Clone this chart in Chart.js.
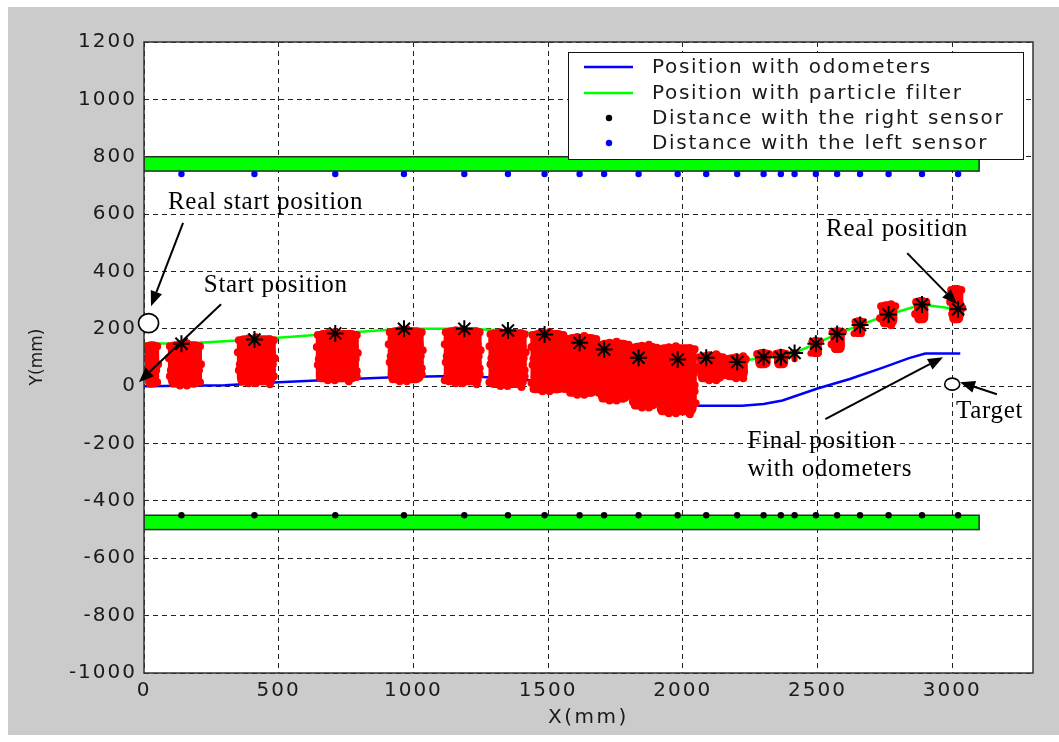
<!DOCTYPE html>
<html><head><meta charset="utf-8">
<script src="https://cdn.jsdelivr.net/npm/chart.js@4.4.1/dist/chart.umd.min.js"></script>
<style>html,body{margin:0;padding:0;background:#fff}canvas{display:block}</style>
</head><body>
<canvas id="c" width="1059" height="742"></canvas>
<script>
// ---------- data (mm) ----------
const xTicks = [0, 500, 1000, 1500, 2000, 2500, 3000];
const yTicks = [-1000, -800, -600, -400, -200, 0, 200, 400, 600, 800, 1000, 1200];

const odoX = [0, 300, 500, 700, 950, 1200, 1320, 1490, 1560, 1670, 1800, 1920, 2030, 2220, 2300, 2370, 2500, 2620, 2740, 2840, 2900, 3030];
const odoY = [0, 3, 14, 22, 32, 36, 28, 17, 7, -10, -35, -52, -68, -68, -62, -50, -8, 25, 64, 98, 114, 114];

const pfX = [0, 139, 410, 710, 965, 1189, 1351, 1487, 1617, 1708, 1836, 1981, 2087, 2202, 2300, 2364, 2415, 2494, 2573, 2658, 2764, 2888, 3022];
const pfY = [150, 148, 163, 184, 200, 200, 194, 180, 151, 128, 99, 93, 99, 84, 101, 101, 116, 148, 182, 213, 250, 285, 268];

const sensorX = [139, 410, 710, 965, 1189, 1351, 1487, 1617, 1708, 1836, 1981, 2087, 2202, 2300, 2364, 2415, 2494, 2573, 2658, 2764, 2888, 3022];
const starY   = [148, 163, 184, 200, 200, 194, 180, 151, 128, 99, 93, 99, 84, 101, 101, 116, 148, 182, 213, 250, 285, 268];
const rightSensorY = [-450, -450, -450, -450, -450, -450, -450, -450, -450, -450, -450, -450, -450, -450, -450, -450, -450, -450, -450, -450, -450, -450];
const leftSensorY  = [740, 740, 740, 740, 740, 740, 740, 740, 740, 740, 740, 740, 740, 740, 740, 740, 740, 740, 740, 740, 740, 740];

// particle clouds (extent of each cloud)
const cloudXLo = [0, 85, 341, 634, 901, 1109, 1275, 1431, 1560, 1680, 1800, 1900, 2050, 2150, 2265, 2335, 2400, 2470, 2545, 2630, 2725, 2855, 2985];
const cloudXHi = [60, 219, 493, 801, 1042, 1257, 1424, 1568, 1690, 1810, 1915, 2055, 2160, 2245, 2330, 2395, 2430, 2520, 2605, 2680, 2800, 2915, 3045];
const cloudYLo = [-8, -8, 0, 10, 7, 0, -10, -28, -40, -60, -85, -105, 10, 17, 59, 59, 80, 98, 112, 168, 202, 216, 216];
const cloudYHi = [160, 160, 181, 199, 209, 209, 202, 199, 185, 165, 155, 150, 122, 115, 133, 133, 133, 175, 209, 244, 300, 314, 356];

// corridor walls
const wallX = [0, 3100];
const topWall = [750, 800];
const bottomWall = [-500, -450];

// annotations (mm)
const notes = [
  {text: 'Real start position', x: 89, y: 642},
  {text: 'Start position', x: 222, y: 352},
  {text: 'Real position', x: 2532, y: 548},
  {text: 'Target', x: 3014, y: -87},
  {text: 'Final position', x: 2240, y: -192},
  {text: 'with odometers', x: 2240, y: -290}
];
const arrows = [
  {x1: 145, y1: 569, x2: 26, y2: 279},
  {x1: 286, y1: 286, x2: -19, y2: 14},
  {x1: 2833, y1: 464, x2: 3018, y2: 286},
  {x1: 2529, y1: -115, x2: 2966, y2: 101},
  {x1: 3166, y1: -28, x2: 3029, y2: 14}
];
const circles = [
  {x: 17, y: 220, rx: 10, ry: 9.5},
  {x: 3000, y: 7, rx: 7.5, ry: 6}
];

// ---------- drawing helpers ----------
const TXT = '#1a1a1a';
const sansFont = {family: 'DejaVu Sans', size: 20};

function pts(xs, ys) { return xs.map((x, i) => ({x: x, y: ys[i]})); }

const bgPlugin = {
  id: 'bg',
  beforeDraw(c) {
    const ctx = c.ctx, a = c.chartArea;
    ctx.save();
    ctx.fillStyle = '#ffffff';
    ctx.fillRect(0, 0, c.width, c.height);
    ctx.fillStyle = '#cbcbcb';
    ctx.fillRect(8, 7, c.width - 8, 728);
    ctx.fillStyle = '#ffffff';
    ctx.fillRect(a.left, a.top, a.right - a.left, a.bottom - a.top);
    ctx.restore();
    ctx.letterSpacing = '2px';
  }
};

const wallPlugin = {
  id: 'walls',
  beforeDatasetsDraw(c) {
    const ctx = c.ctx, a = c.chartArea, sx = c.scales.x, sy = c.scales.y;
    ctx.save();
    ctx.beginPath(); ctx.rect(a.left, a.top, a.right - a.left, a.bottom - a.top); ctx.clip();
    [topWall, bottomWall].forEach(w => {
      const x0 = sx.getPixelForValue(wallX[0]), x1 = sx.getPixelForValue(wallX[1]);
      const y0 = sy.getPixelForValue(w[1]), y1 = sy.getPixelForValue(w[0]);
      ctx.fillStyle = '#00ff00';
      ctx.fillRect(x0, y0, x1 - x0, y1 - y0);
      ctx.strokeStyle = '#2a2a2a'; ctx.lineWidth = 1.5;
      ctx.strokeRect(x0, y0, x1 - x0, y1 - y0);
    });
    ctx.restore();
  }
};

// irregular outline for a cloud of particles
function blob(ctx, x0, x1, y0, y1) {
  const w = x1 - x0, h = y1 - y0;
  const r = Math.min(7, w / 3, h / 3);
  const br = Math.min(4, w / 4);
  ctx.beginPath();
  ctx.roundRect(x0 + 1, y0 + 1, w - 2, h - 2, r);
  ctx.fill();
  const pat = [-1, 1, -2, 2, 0, -1, 2, 1, -2, 0, 1, -1];
  let k = 0;
  for (let y = y0 + br + 2; y < y1 - br - 1; y += 6, k++) {
    const dl = pat[k % pat.length], dr = pat[(k + 5) % pat.length];
    ctx.beginPath(); ctx.arc(x0 + br + dl, y, br, 0, Math.PI * 2); ctx.fill();
    ctx.beginPath(); ctx.arc(x1 - br - dr, y, br, 0, Math.PI * 2); ctx.fill();
  }
  k = 3;
  for (let x = x0 + br + 2; x < x1 - br - 1; x += 7, k++) {
    const dt = pat[k % pat.length], db = pat[(k + 7) % pat.length];
    ctx.beginPath(); ctx.arc(x, y0 + br + dt, br, 0, Math.PI * 2); ctx.fill();
    ctx.beginPath(); ctx.arc(x, y1 - br - db, br, 0, Math.PI * 2); ctx.fill();
  }
}

const cloudPlugin = {
  id: 'clouds',
  beforeDatasetDraw(c, args) {
    if (args.index !== 2) return;
    const ctx = c.ctx, a = c.chartArea, sx = c.scales.x, sy = c.scales.y;
    ctx.save();
    ctx.beginPath(); ctx.rect(a.left, a.top, a.right - a.left, a.bottom - a.top); ctx.clip();
    ctx.fillStyle = '#ff0000';
    for (let i = 0; i < cloudXLo.length; i++) {
      blob(ctx, sx.getPixelForValue(cloudXLo[i]), sx.getPixelForValue(cloudXHi[i]),
           sy.getPixelForValue(cloudYHi[i]), sy.getPixelForValue(cloudYLo[i]));
    }
    ctx.restore();
  }
};

function arrow(ctx, x1, y1, x2, y2) {
  const ang = Math.atan2(y2 - y1, x2 - x1), L = 15, W = 6;
  const bx = x2 - L * Math.cos(ang), by = y2 - L * Math.sin(ang);
  ctx.beginPath(); ctx.moveTo(x1, y1); ctx.lineTo(bx, by); ctx.stroke();
  ctx.beginPath();
  ctx.moveTo(x2, y2);
  ctx.lineTo(bx + W * Math.sin(ang), by - W * Math.cos(ang));
  ctx.lineTo(bx - W * Math.sin(ang), by + W * Math.cos(ang));
  ctx.closePath(); ctx.fill();
}

const overlayPlugin = {
  id: 'overlay',
  afterDraw(c) {
    const ctx = c.ctx, a = c.chartArea, sx = c.scales.x, sy = c.scales.y;
    ctx.save();
    // frame
    ctx.strokeStyle = '#333333'; ctx.lineWidth = 1.5;
    ctx.strokeRect(a.left, a.top, a.right - a.left, a.bottom - a.top);

    // legend
    const L = 568, T = 52, R = 1023, B = 159;
    ctx.fillStyle = '#ffffff'; ctx.fillRect(L, T, R - L, B - T);
    ctx.strokeStyle = '#111111'; ctx.lineWidth = 1; ctx.strokeRect(L + 0.5, T + 0.5, R - L, B - T);
    const rows = [67, 93, 118, 143];
    const ds = c.data.datasets;
    const items = [0, 1, 3, 4];
    ctx.font = '20px "DejaVu Sans"';
    ctx.letterSpacing = '1.7px';
    ctx.textBaseline = 'middle'; ctx.textAlign = 'left';
    items.forEach((di, r) => {
      const d = ds[di], y = rows[r];
      if (d.showLine) {
        ctx.strokeStyle = d.borderColor; ctx.lineWidth = 2.5;
        ctx.beginPath(); ctx.moveTo(584, y); ctx.lineTo(633, y); ctx.stroke();
      } else {
        ctx.fillStyle = d.backgroundColor;
        ctx.beginPath(); ctx.arc(609, y, 3.2, 0, Math.PI * 2); ctx.fill();
      }
      ctx.fillStyle = TXT;
      ctx.fillText(d.label, 652, y + 1);
    });

    // axis titles
    ctx.letterSpacing = '2.5px';
    ctx.textAlign = 'center';
    ctx.fillText('X(mm)', (a.left + a.right) / 2, 718);
    ctx.letterSpacing = '0px';
    ctx.save();
    ctx.translate(38, 357); ctx.rotate(-Math.PI / 2);
    ctx.font = '17px "DejaVu Sans"';
    ctx.fillText('Y(mm)', 0, 0);
    ctx.restore();

    // annotations
    ctx.strokeStyle = '#000'; ctx.fillStyle = '#000'; ctx.lineWidth = 2;
    arrows.forEach(ar => arrow(ctx, sx.getPixelForValue(ar.x1), sy.getPixelForValue(ar.y1),
                                     sx.getPixelForValue(ar.x2), sy.getPixelForValue(ar.y2)));
    circles.forEach(ci => {
      ctx.beginPath();
      ctx.ellipse(sx.getPixelForValue(ci.x), sy.getPixelForValue(ci.y), ci.rx, ci.ry, 0, 0, Math.PI * 2);
      ctx.fillStyle = '#fff'; ctx.fill();
      ctx.lineWidth = 1.6; ctx.strokeStyle = '#000'; ctx.stroke();
    });
    ctx.fillStyle = '#000';
    ctx.font = '25px "Liberation Serif"';
    ctx.letterSpacing = '0.7px';
    ctx.textAlign = 'left'; ctx.textBaseline = 'middle';
    notes.forEach(n => ctx.fillText(n.text, sx.getPixelForValue(n.x), sy.getPixelForValue(n.y)));
    ctx.restore();
  }
};

new Chart(document.getElementById('c'), {
  type: 'scatter',
  data: {
    datasets: [
      {label: 'Position with odometers', data: pts(odoX, odoY), showLine: true, pointRadius: 0,
       borderColor: '#0000ff', backgroundColor: '#0000ff', borderWidth: 2.5, order: 6},
      {label: 'Position with particle filter', data: pts(pfX, pfY), showLine: true, pointRadius: 0,
       borderColor: '#00ff00', backgroundColor: '#00ff00', borderWidth: 2.5, order: 5},
      {label: 'Particle filter estimate', data: pts(sensorX, starY), showLine: false, pointStyle: 'star',
       pointRadius: 8.5, borderColor: '#000000', backgroundColor: '#000000', borderWidth: 2, order: 3},
      {label: 'Distance with the right sensor', data: pts(sensorX, rightSensorY), showLine: false,
       pointRadius: 3.2, borderWidth: 0, backgroundColor: '#000000', borderColor: '#000000', order: 1},
      {label: 'Distance with the left sensor', data: pts(sensorX, leftSensorY), showLine: false,
       pointRadius: 3.2, borderWidth: 0, backgroundColor: '#0000ff', borderColor: '#0000ff', order: 1}
    ]
  },
  options: {
    responsive: false,
    animation: false,
    events: [],
    layout: {padding: {left: 0, top: 42, right: 26, bottom: 0}},
    plugins: {legend: {display: false}, tooltip: {enabled: false}},
    scales: {
      x: {
        type: 'linear', min: 0, max: 3300,
        afterBuildTicks: s => { s.ticks = xTicks.map(v => ({value: v})); },
        afterFit: s => { s.height = 69; },
        ticks: {font: sansFont, color: TXT, padding: 6, maxRotation: 0, autoSkip: false,
                callback: v => String(v)},
        grid: {color: '#222222', lineWidth: 1, drawTicks: false},
        border: {display: false, dash: [5, 4]}
      },
      y: {
        type: 'linear', min: -1000, max: 1200,
        afterBuildTicks: s => { s.ticks = yTicks.map(v => ({value: v})); },
        afterFit: s => { s.width = 144; },
        ticks: {font: sansFont, color: TXT, padding: 7, autoSkip: false,
                callback: v => String(v)},
        grid: {color: '#222222', lineWidth: 1, drawTicks: false},
        border: {display: false, dash: [5, 4]}
      }
    }
  },
  plugins: [bgPlugin, wallPlugin, cloudPlugin, overlayPlugin]
});
</script>
</body></html>
